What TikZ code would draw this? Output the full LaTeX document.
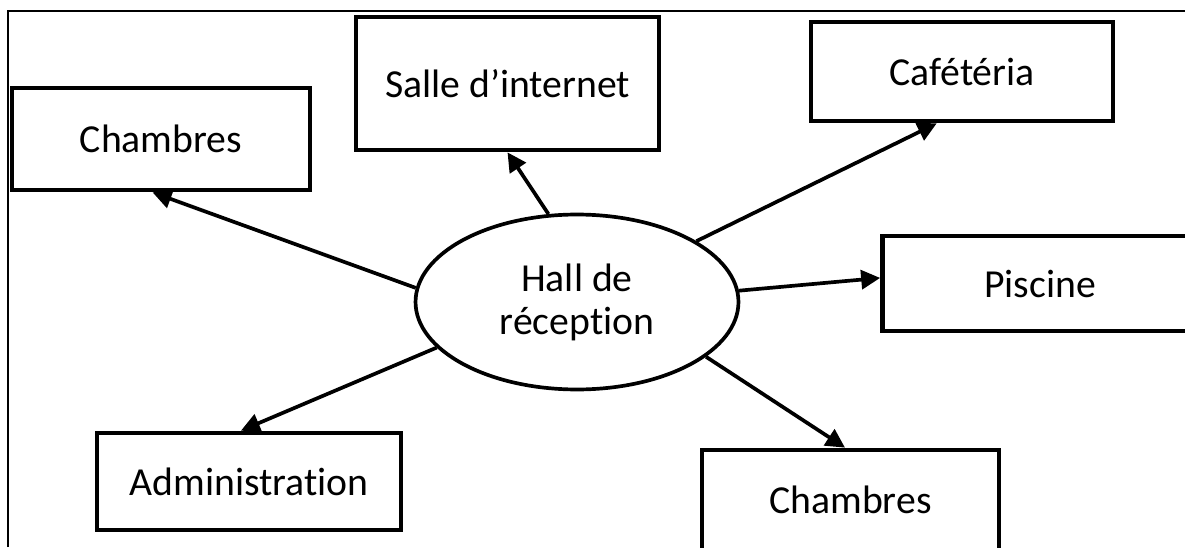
\documentclass[tikz,border=0pt]{standalone}
\usepackage{fontspec}
\setmainfont{Carlito}[Ligatures=NoCommon]
\usetikzlibrary{shapes.geometric,arrows.meta}
\begin{document}
\begin{tikzpicture}[x=0.02cm, y=-0.02cm,
        room/.style={draw, line width=2.7pt, inner sep=0pt, font=\fontsize{22.6}{27}\selectfont},
        lobby/.style={draw, ellipse, line width=2.1pt, minimum width=6.46cm, minimum height=3.5cm, inner sep=0pt, align=center, font=\fontsize{22.6}{24.5}\selectfont},
        link/.style={-{Triangle[length=0.38cm,width=0.38cm]}, line width=2.1pt}]
            \useasboundingbox (0,0) rectangle (1185,547);
            \clip (0,0) rectangle (1185,547);
            \draw[line width=1pt] (8,547) -- (8,11) -- (1185,11);

            \node(hall) at (577,302) [lobby] {Hall de\\réception};
            \node(chambres_haut) at (161,139) [room, minimum width=5.96cm, minimum height=2.04cm] {Chambres};
            \node(internet) at (507.5,83.5) [room, minimum width=6.06cm, minimum height=2.66cm] {Salle d’internet};
            \node(cafeteria) at (962,71.5) [room, minimum width=6.04cm, minimum height=1.98cm] {Cafétéria};
            \node(piscine) at (1040,283.5) [room, minimum width=6.3cm, minimum height=1.9cm] {Piscine};
            \node(admin) at (249,481.5) [room, minimum width=6.08cm, minimum height=1.94cm] {Administration};
            \node(chambres_bas) at (850.5,500) [room, minimum width=5.94cm, minimum height=2.0cm] {Chambres};

            \draw[link] (hall.175) -- (chambres_haut.261);
            \draw[link] (hall.108.6) -- (internet.south);
            \draw[link] (hall.27.3) -- (cafeteria.244);
            \draw[link] (hall.4.2) -- (piscine.178);
            \draw[link] (hall.198.4) -- (admin.99);
            \draw[link] (hall.337.4) -- (chambres_bas.96);
        \end{tikzpicture}
\end{document}
